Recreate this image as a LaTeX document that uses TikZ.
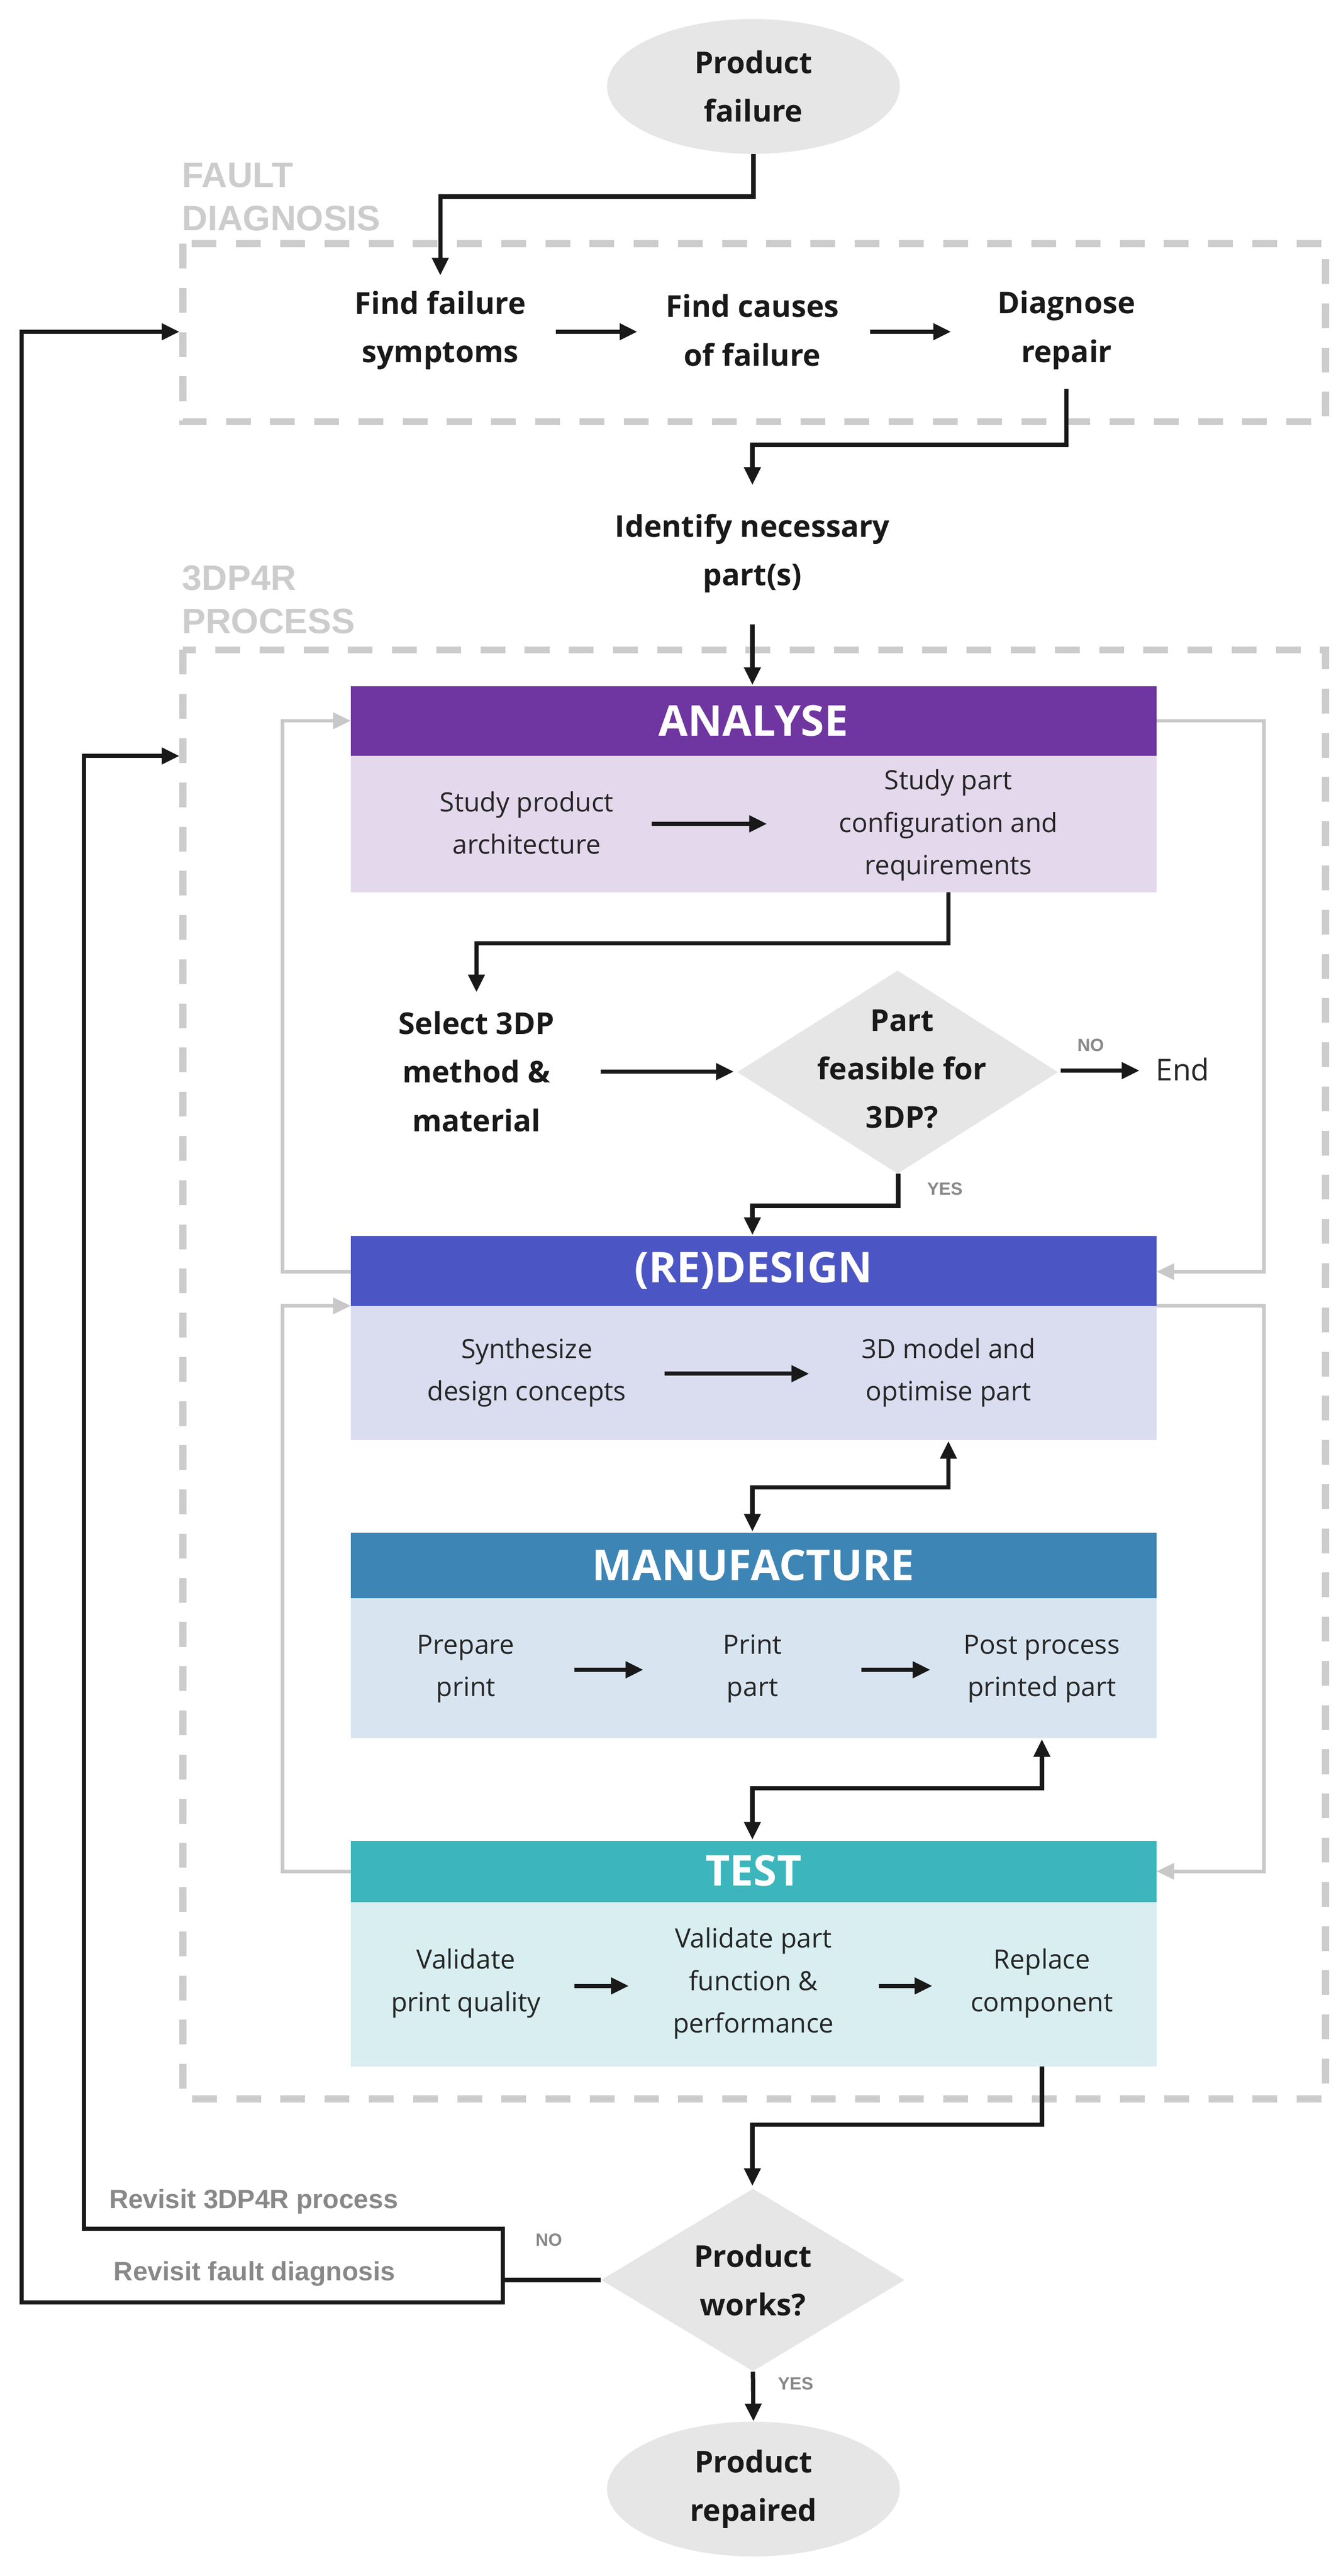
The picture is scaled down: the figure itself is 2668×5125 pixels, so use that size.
\documentclass[tikz,border=0pt]{standalone}
\usepackage{fontspec}
\setmainfont{Open Sans}
\newfontfamily\arialf{Liberation Sans}
\usetikzlibrary{shapes.geometric,arrows.meta}
\definecolor{anH}{HTML}{6F35A0}\definecolor{anB}{HTML}{E3D8EC}
\definecolor{reH}{HTML}{4B55C4}\definecolor{reB}{HTML}{DADCF0}
\definecolor{maH}{HTML}{3D85B5}\definecolor{maB}{HTML}{D8E5F1}
\definecolor{teH}{HTML}{3CB6BC}\definecolor{teB}{HTML}{D8EEF0}
\definecolor{shape}{HTML}{E6E6E6}\definecolor{dash}{HTML}{CCCCCC}
\definecolor{glabel}{HTML}{888888}\definecolor{garrow}{HTML}{C8C8C8}
\tikzset{
 bold/.style={font=\fontsize{17}{27.5}\selectfont\bfseries,align=center,text=black!90},
 body/.style={font=\fontsize{15}{24}\selectfont,align=center,text=black!85},
 head/.style={font=\fontsize{24}{28}\selectfont\bfseries,text=white},
 sec/.style={font=\arialf\fontsize{20}{24.5}\selectfont\bfseries,text=dash,align=left,anchor=west},
 rev/.style={font=\arialf\fontsize{15}{18}\selectfont\bfseries,text=glabel,anchor=west},
 small/.style={font=\arialf\fontsize{10}{12}\selectfont\bfseries,text=glabel},
 con/.style={line width=2.4pt,draw=black!90,-{Triangle[length=10pt,width=9pt]}},
 dcon/.style={line width=2.4pt,draw=black!90,{Triangle[length=10pt,width=9pt]}-{Triangle[length=10pt,width=9pt]}},
 gcon/.style={line width=2pt,draw=garrow,-{Triangle[length=10pt,width=9pt]}},
 dbox/.style={draw=dash,line width=4pt,dash pattern=on 14pt off 11pt},
 term/.style={ellipse,fill=shape,minimum width=5.82cm,minimum height=2.68cm,bold},
 dia/.style={diamond,fill=shape,bold,inner sep=0pt},
}
\begin{document}
\begin{tikzpicture}[x=0.01cm,y=-0.01cm]
\useasboundingbox (0,0) rectangle (2668,5125);
% dashed boxes
\draw[dbox] (364,485) rectangle (2637,839);
\draw[dbox] (364,1293) rectangle (2637,4176);
\node[sec] (fd) at (350,392) {FAULT\\DIAGNOSIS};
\node[sec] (pr) at (350,1193) {3DP4R\\PROCESS};
% top
\node[term] (pf) at (1499,172) {Product\\failure};
\node[bold] (s1) at (876,657) {Find failure\\symptoms};
\node[bold] (s2) at (1497,657) {Find causes\\of failure};
\node[bold] (s3) at (2122,657) {Diagnose\\repair};
\coordinate (s1t) at (876,548);
\coordinate (s3b) at (2122,774);
\draw[con] (pf.south) -- (1499,391) -- (876,391) -- (s1t);
\draw[con] (1106,660) -- (1268,660);
\draw[con] (1731,660) -- (1892,660);
\node[bold] (id) at (1497,1101) {Identify necessary\\part(s)};
\coordinate (idt) at (1497,965);
\draw[con] (s3b) -- (2122,885) -- (1497,885) -- (idt);
% ANALYSE
\fill[anH] (698,1365) rectangle (2301,1504);
\fill[anB] (698,1504) rectangle (2301,1775);
\node[head] (ah) at (1499,1434) {ANALYSE};
\draw[con] (1497,1242) -- (1497,1363);
\node[body] (a1) at (1048,1637) {Study product\\architecture};
\node[body] (a2) at (1887,1642) {Study part\\configuration and\\requirements};
\draw[con] (1297,1639) -- (1526,1639);
\node[bold] (sel) at (948,2132) {Select 3DP\\method \&\\material};
\node[dia,minimum width=6.38cm,minimum height=4.04cm,aspect=1.58] (pf3) at (1786,2133) {};
\node[bold] at (1795,2127) {Part\\feasible for\\3DP?};
\draw[con] (1887,1775) -- (1887,1877) -- (948,1877) -- (948,1974);
\draw[con] (1195,2132) -- (1460,2132);
\node[small] (no1) at (2170,2079) {NO};
\node[font=\fontsize{17}{20}\selectfont,text=black!85] (end) at (2353,2127) {End};
\draw[con] (2110,2130) -- (2267,2130);
\node[small] (yes1) at (1880,2365) {YES};
\draw[con] (1787,2335) -- (1787,2399) -- (1497,2399) -- (1497,2457);
% REDESIGN
\fill[reH] (698,2459) rectangle (2301,2598);
\fill[reB] (698,2598) rectangle (2301,2865);
\node[head] (rh) at (1499,2528) {(RE)DESIGN};
\node[body] (r1) at (1048,2731) {Synthesize\\design concepts};
\node[body] (r2) at (1887,2731) {3D model and\\optimise part};
\draw[con] (1322,2733) -- (1610,2733);
% gray loops
\draw[gcon] (698,2530) -- (562,2530) -- (562,1434) -- (698,1434);
\draw[gcon] (2301,1434) -- (2515,1434) -- (2515,2530) -- (2301,2530);
\draw[gcon] (698,3723) -- (562,3723) -- (562,2598) -- (698,2598);
\draw[gcon] (2301,2598) -- (2515,2598) -- (2515,3723) -- (2301,3723);
% MANUFACTURE
\fill[maH] (698,3049) rectangle (2301,3180);
\fill[maB] (698,3180) rectangle (2301,3458);
\node[head] (mh) at (1499,3114) {MANUFACTURE};
\draw[dcon] (1497,3047) -- (1497,2959) -- (1887,2959) -- (1887,2867);
\node[body] (m1) at (927,3320) {Prepare\\print};
\node[body] (m2) at (1497,3320) {Print\\part};
\node[body] (m3) at (2073,3320) {Post process\\printed part};
\draw[con] (1143,3322) -- (1280,3322);
\draw[con] (1714,3322) -- (1851,3322);
% TEST
\fill[teH] (698,3662) rectangle (2301,3784);
\fill[teB] (698,3784) rectangle (2301,4111);
\node[head] (th) at (1499,3722) {TEST};
\draw[dcon] (1497,3660) -- (1497,3558) -- (2073,3558) -- (2073,3460);
\node[body] (t1) at (927,3946) {Validate\\print quality};
\node[body] (t2) at (1499,3946) {Validate part\\function \&\\performance};
\node[body] (t3) at (2073,3946) {Replace\\component};
\draw[con] (1143,3951) -- (1251,3951);
\draw[con] (1749,3951) -- (1855,3951);
% bottom
\node[dia,minimum width=6.04cm,minimum height=3.63cm,aspect=1.66] (pw) at (1498,4536) {};
\node[bold] at (1498,4536) {Product\\works?};
\draw[con] (2073,4111) -- (2073,4227) -- (1497,4227) -- (1497,4349);
\node[small] (no2) at (1092,4456) {NO};
\node[rev] (rv1) at (205,4380) {Revisit 3DP4R process};
\node[rev] (rv2) at (214,4524) {Revisit fault diagnosis};
\draw[line width=2.4pt,black!90] (pw.west) -- (1000,4536);
\draw[con,line cap=round] (1000,4536) -- (1000,4434) -- (167,4434) -- (167,1504) -- (357,1504);
\draw[con] (1000,4536) -- (1000,4581) -- (43,4581) -- (43,660) -- (357,660);
\node[small] (yes2) at (1583,4742) {YES};
\node[term] (rp) at (1499,4952) {Product\\repaired};
\draw[con] (pw.south) -- (rp.north);
\end{tikzpicture}
\end{document}
